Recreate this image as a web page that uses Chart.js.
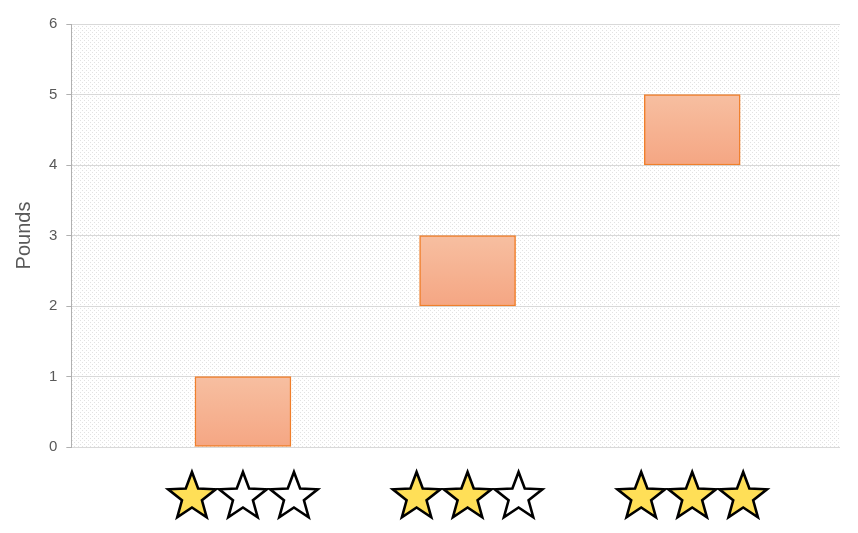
<!DOCTYPE html>
<html lang="en">
<head>
  <meta charset="UTF-8" />
  <title>Pounds by rating</title>
  <style>
    html, body { margin: 0; padding: 0; background: #fff; }
    #wrap { width: 858px; height: 533px; }
  </style>
</head>
<body>
  <div id="wrap"><canvas id="chart"></canvas></div>

  <script src="https://cdn.jsdelivr.net/npm/chart.js"></script>
  <script>
    // star ratings (filled stars out of three) and the pound range for each
    const ratings = [1, 2, 3];
    const maxStars = 3;
    const lows = [0, 2, 4];
    const highs = [1, 3, 5];
    const yTicks = [0, 1, 2, 3, 4, 5, 6];

    const font = "'Liberation Sans', Arial, sans-serif";

    // light dotted fill behind the plot
    const tile = document.createElement('canvas');
    tile.width = 4; tile.height = 4;
    const tctx = tile.getContext('2d');
    tctx.fillStyle = '#e2e2e2';
    tctx.fillRect(0, 0, 1, 1);
    tctx.fillRect(2, 2, 1, 1);

    const dottedBg = {
      id: 'dottedBg',
      beforeDraw(chart) {
        const { ctx, chartArea: a } = chart;
        ctx.save();
        ctx.fillStyle = ctx.createPattern(tile, 'repeat');
        ctx.fillRect(a.left, a.top, a.right - a.left, a.bottom - a.top);
        ctx.restore();
      }
    };

    function star(ctx, cx, cy, outer, inner, filled) {
      ctx.beginPath();
      for (let i = 0; i < 10; i++) {
        const r = i % 2 ? inner : outer;
        const ang = -Math.PI / 2 + i * Math.PI / 5;
        const px = cx + r * Math.cos(ang), py = cy + r * Math.sin(ang);
        i ? ctx.lineTo(px, py) : ctx.moveTo(px, py);
      }
      ctx.closePath();
      ctx.fillStyle = filled ? '#ffdf57' : '#ffffff';
      ctx.fill();
      ctx.lineWidth = 2.6;
      ctx.lineJoin = 'miter';
      ctx.strokeStyle = '#000';
      ctx.stroke();
    }

    // star labels under each bar, placed by the x scale
    const starLabels = {
      id: 'starLabels',
      afterDraw(chart) {
        const { ctx, scales: { x } } = chart;
        ctx.save();
        ratings.forEach(r => {
          const cx = x.getPixelForValue(r);
          for (let k = 0; k < maxStars; k++) {
            star(ctx, cx + (k - 1) * 51, 497, 25, 10.5, k < r);
          }
        });
        ctx.restore();
      }
    };

    function barFill(c) {
      const chart = c.chart;
      if (!chart.chartArea) return '#f5b08e';
      const y = chart.scales.y;
      const top = y.getPixelForValue(highs[c.dataIndex]);
      const bottom = y.getPixelForValue(lows[c.dataIndex]);
      const g = chart.ctx.createLinearGradient(0, top, 0, bottom);
      g.addColorStop(0, '#f7bfa1');
      g.addColorStop(1, '#f5a683');
      return g;
    }

    new Chart(document.getElementById('chart'), {
      type: 'bar',
      data: {
        datasets: [{
          label: 'Pounds',
          data: ratings.map((r, i) => ({ x: r, y: [lows[i], highs[i]] })),
          backgroundColor: barFill,
          borderColor: '#f07f2b',
          borderWidth: 1.5,
          borderSkipped: false,
          barThickness: 96
        }]
      },
      options: {
        responsive: true,
        maintainAspectRatio: false,
        animation: false,
        layout: { padding: { top: 24, right: 18, bottom: 78, left: 12 } },
        plugins: {
          legend: { display: false },
          tooltip: { enabled: false }
        },
        scales: {
          x: {
            type: 'linear',
            offset: false,
            min: 0.236,
            max: 3.658,
            grid: { display: false, offset: false },
            border: { display: false },
            ticks: { display: false }
          },
          y: {
            min: 0,
            max: 6,
            afterBuildTicks: s => { s.ticks = yTicks.map(v => ({ value: v })); },
            grid: { color: '#d9d9d9', tickColor: '#b0b0b0', tickLength: 5 },
            border: { color: '#b0b0b0' },
            ticks: { color: '#595959', padding: 9, font: { family: font, size: 15 } },
            title: {
              display: true,
              text: 'Pounds',
              color: '#595959',
              padding: { top: 0, bottom: 4 },
              font: { family: font, size: 20 }
            }
          }
        }
      },
      plugins: [dottedBg, starLabels]
    });
  </script>
</body>
</html>
